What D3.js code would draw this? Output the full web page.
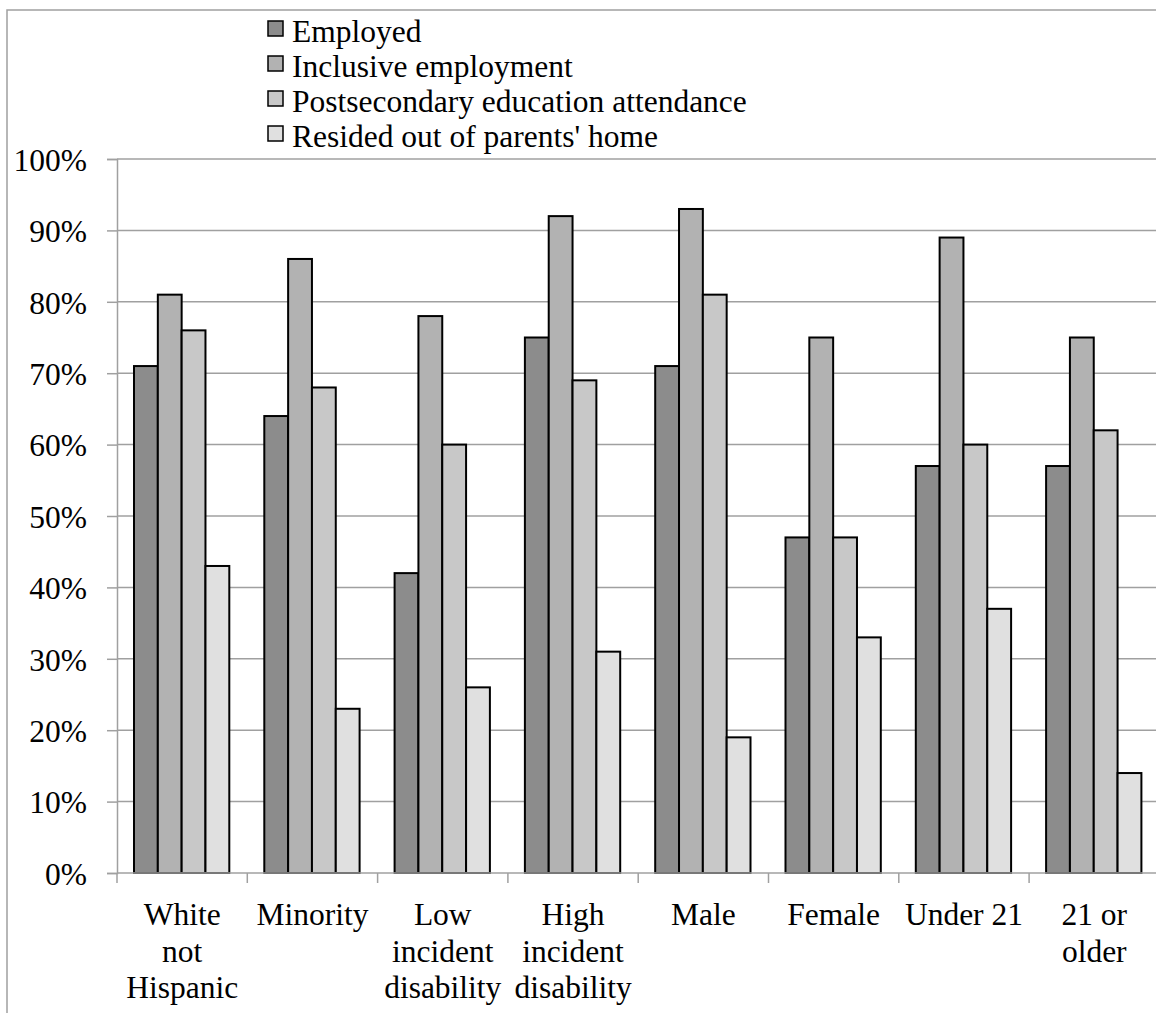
<!DOCTYPE html>
<html><head><meta charset="utf-8">
<script src="https://cdn.jsdelivr.net/npm/d3@7"></script>
<style>html,body{margin:0;padding:0;background:#fff;overflow:hidden}</style>
</head><body>
<svg id="c" width="1156" height="1013"></svg>
<script>
const categories = [["White","not","Hispanic"],["Minority"],["Low","incident","disability"],["High","incident","disability"],["Male"],["Female"],["Under 21"],["21 or","older"]];
const seriesNames = ["Employed","Inclusive employment","Postsecondary education attendance","Resided out of parents' home"];
const employed = [71,64,42,75,71,47,57,57];
const inclusive = [81,86,78,92,93,75,89,75];
const postsecondary = [76,68,60,69,81,47,60,62];
const resided = [43,23,26,31,19,33,37,14];
const yTicks = [0,10,20,30,40,50,60,70,80,90,100];
const colors = ["#8c8c8c","#b2b2b2","#c8c8c8","#e0e0e0"];
const series = [employed, inclusive, postsecondary, resided];

(function(){
const svg = d3.select("#c");
const font = '"Liberation Serif"';
const fs = "31.5px";
const pLeft = 117, pRight = 1159.4, pTop = 159, pBottom = 873;

svg.append("rect").attr("x",7).attr("y",10).attr("width",1300).attr("height",1200)
  .attr("fill","none").attr("stroke","#a0a0a0").attr("stroke-width",1.5);

const x = d3.scaleBand().domain(d3.range(categories.length)).range([pLeft,pRight]).padding(0);
const xi = d3.scaleBand().domain(d3.range(series.length)).range([17, x.bandwidth()-18]).padding(0);
const y = d3.scaleLinear().domain([0,100]).range([pBottom, pTop]);

svg.append("g").selectAll("line").data(yTicks.filter(d=>d>0)).join("line")
  .attr("x1",pLeft).attr("x2",1160).attr("y1",d=>y(d)).attr("y2",d=>y(d))
  .attr("stroke","#a0a0a0").attr("stroke-width",1.5);

const yAxis = svg.append("g").attr("transform",`translate(${pLeft},0)`)
  .call(d3.axisLeft(y).tickValues(yTicks).tickFormat(d=>d+"%").tickSize(10).tickPadding(20));
yAxis.attr("font-family",null).attr("font-size",null);
yAxis.select(".domain").attr("stroke","#a0a0a0").attr("stroke-width",1.5);
yAxis.selectAll(".tick line").attr("stroke","#a0a0a0").attr("stroke-width",1.5);
yAxis.selectAll("text").style("font-family",font).style("font-size",fs).attr("fill","#000").attr("dy","0.36em");

categories.forEach((c,ci)=>{
  series.forEach((s,si)=>{
    svg.append("rect")
      .attr("x", x(ci)+xi(si)).attr("width", xi.bandwidth())
      .attr("y", y(s[ci])).attr("height", y(0)-y(s[ci]))
      .attr("fill", colors[si]).attr("stroke","#000").attr("stroke-width",2);
  });
});

const xg = svg.append("g");
xg.append("line").attr("x1",pLeft).attr("x2",1160).attr("y1",pBottom).attr("y2",pBottom)
  .attr("stroke","#a0a0a0").attr("stroke-width",1.5);
xg.selectAll("line.t").data(d3.range(categories.length+1)).join("line").attr("class","t")
  .attr("x1",d=>pLeft+d*x.bandwidth()).attr("x2",d=>pLeft+d*x.bandwidth())
  .attr("y1",pBottom).attr("y2",pBottom+10).attr("stroke","#a0a0a0").attr("stroke-width",1.5);
categories.forEach((lines,ci)=>{
  const cx = x(ci)+x.bandwidth()/2;
  const t = svg.append("text").attr("x", cx).attr("y", 925)
    .attr("text-anchor","middle").style("font-family",font).style("font-size",fs);
  lines.forEach((l,li)=>t.append("tspan").attr("x",cx).attr("dy", li===0?0:36.5).text(l));
});

const lg = svg.append("g");
seriesNames.forEach((n,i)=>{
  const cy = 28.5 + i*35;
  lg.append("rect").attr("x",268).attr("y",cy-7.5).attr("width",15).attr("height",15)
    .attr("fill",colors[i]).attr("stroke","#000").attr("stroke-width",1.5);
  lg.append("text").attr("x",292).attr("y",cy+13.5).style("font-family",font).style("font-size",fs).text(n);
});
})();
</script>
</body></html>
